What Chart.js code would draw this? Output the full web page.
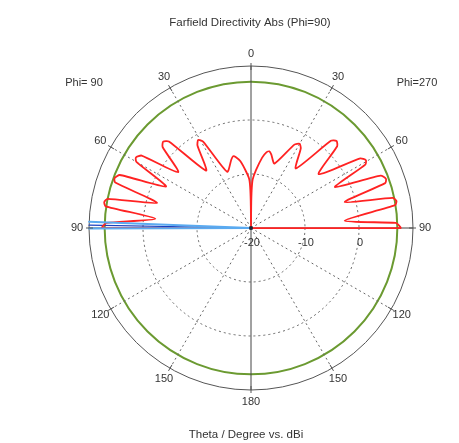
<!DOCTYPE html>
<html>
<head>
<meta charset="utf-8">
<script src="https://cdn.jsdelivr.net/npm/chart.js@4.4.1/dist/chart.umd.min.js"></script>
<style>
  html, body { margin: 0; padding: 0; background: #fff; }
  #wrap { width: 459px; height: 443px; position: relative; }
</style>
</head>
<body>
<div id="wrap"><canvas id="farfield"></canvas></div>
<script>
// angular resolution of the polar categories (degrees)
const STEP = 0.1;
const N = Math.round(360 / STEP);
const thetaCategories = Array.from({ length: N }, (_, i) => +(i * STEP).toFixed(1));

// Phi=270 half (drawn on the right, theta clockwise from top)
const thetaPhi270 = [0, 0.5, 1, 2, 5, 9, 11.5, 13.5, 15.5, 20, 27.5, 30, 32, 37, 42.5, 44.5, 46.5, 51.5,
  57.5, 59.5, 61, 64, 68, 70, 71.5, 74.5, 78, 79.5, 81, 85.5, 88, 89, 90, 90.5];
const dirPhi270 = [-20, -16, -13, -11, -9.2, -6.8, -5.7, -5.4, -5.9, -7.3, -2.6, -2, -2.6, -6.2, 1.9, 2.6, 2.0, -4,
  4.0, 4.7, 4.2, -2.7, 5.9, 6.6, 6.2, -2, 6.8, 7.4, 7.0, -2.6, 6.8, 7.4, 7.7, -20];

// Phi=90 half (drawn on the left, theta counter-clockwise from top)
const thetaPhi90 = [0, 0.5, 1, 2, 5, 9, 12, 14, 16, 23, 29, 31, 33, 38, 43.5, 45.5, 47.5, 52.5,
  56.5, 58.5, 60, 64, 68, 70, 71.5, 75, 78.5, 80, 81.5, 84.5, 88, 89, 90, 90.5];
const dirPhi90 = [-20, -16, -13, -11, -9.5, -7.5, -6.6, -6.3, -6.8, -8.7, -1.7, -1, -1.8, -6.5, 2.1, 2.8, 2.2, -3,
  4.3, 5.0, 4.5, -2.5, 6.2, 6.9, 6.5, -2, 7.1, 7.6, 7.2, -2.2, 6.8, 7.3, 7.6, -20];

// main lobe direction and 3 dB beam edges (Phi=90 side)
const mainLobeTheta = 89;
const beamEdgeTheta = [87.8, 90.2];

const radialTicks = [-20, -10, 0, 10];
const maxDirectivity = 7.1;
const angleTickAngles = [0, 30, 60, 90, 120, 150, 180, 210, 240, 270, 300, 330];
const angleTickLabels = ['0', '30', '60', '90', '120', '150', '180', '150', '120', '90', '60', '30'];

const idx = a => ((Math.round(a / STEP) % N) + N) % N;

function buildSeries() {
  const arr = new Array(N).fill(null);
  thetaPhi270.forEach((t, i) => { arr[idx(t)] = dirPhi270[i]; });
  thetaPhi90.forEach((t, i) => { arr[idx(360 - t)] = dirPhi90[i]; });
  return arr;
}

function rayTo(theta) {
  const arr = new Array(N).fill(null);
  arr[idx(180)] = -20;
  arr[idx(360 - theta)] = 10;
  return arr;
}

const FONT = '11px "Liberation Sans", Arial, sans-serif';

const overlay = {
  id: 'overlay',
  afterDraw(chart) {
    const r = chart.scales.r;
    const ctx = chart.ctx;
    ctx.save();
    ctx.strokeStyle = '#555';
    ctx.lineWidth = 1;
    ctx.fillStyle = '#333';
    ctx.font = FONT;
    ctx.textAlign = 'center';
    ctx.textBaseline = 'middle';

    angleTickAngles.forEach((a, i) => {
      const p1 = r.getPointPosition(idx(a), r.drawingArea - 4);
      const p2 = r.getPointPosition(idx(a), r.drawingArea + 3);
      ctx.beginPath();
      ctx.moveTo(p1.x, p1.y);
      ctx.lineTo(p2.x, p2.y);
      ctx.stroke();
      const pl = r.getPointPosition(idx(a), r.drawingArea + 12);
      ctx.fillText(angleTickLabels[i], pl.x, pl.y);
    });

    radialTicks.slice(0, 3).forEach(v => {
      const p = r.getPointPosition(idx(90), r.getDistanceFromCenterForValue(v));
      ctx.fillText(String(v), p.x + 1, p.y + 15);
    });

    // centre dot
    ctx.fillStyle = '#223';
    ctx.beginPath();
    ctx.arc(r.xCenter, r.yCenter, 2, 0, Math.PI * 2);
    ctx.fill();

    ctx.fillStyle = '#333';
    ctx.font = '11.5px "Liberation Sans", Arial, sans-serif';
    ctx.fillText('Farfield Directivity Abs (Phi=90)', 250, 23);
    ctx.fillText('Theta / Degree vs. dBi', 246, 435);
    ctx.font = FONT;
    ctx.fillText('Phi= 90', 84, 83);
    ctx.fillText('Phi=270', 417, 83);
    ctx.restore();
  }
};

new Chart(document.getElementById('farfield'), {
  type: 'radar',
  data: {
    labels: thetaCategories,
    datasets: [
      {
        data: rayTo(beamEdgeTheta[0]),
        borderColor: '#5aaaf0', borderWidth: 2, spanGaps: true, pointRadius: 0, fill: false, tension: 0
      },
      {
        data: rayTo(beamEdgeTheta[1]),
        borderColor: '#5aaaf0', borderWidth: 2, spanGaps: true, pointRadius: 0, fill: false, tension: 0
      },
      {
        data: buildSeries(),
        borderColor: '#ff2222', borderWidth: 1.8, spanGaps: true, pointRadius: 0, fill: false, tension: 0.2
      },
      {
        data: rayTo(mainLobeTheta),
        borderColor: '#1a3fc0', borderWidth: 1.2, spanGaps: true, pointRadius: 0, fill: false, tension: 0
      }
    ]
  },
  options: {
    responsive: true,
    maintainAspectRatio: false,
    animation: false,
    layout: { padding: { left: 89, top: 66, right: 46, bottom: 53 } },
    plugins: { legend: { display: false }, tooltip: { enabled: false } },
    elements: { line: { borderJoinStyle: 'round' } },
    scales: {
      r: {
        min: -20,
        max: 10,
        afterBuildTicks: s => { s.ticks = [-20, -10, 0, maxDirectivity, 10].map(v => ({ value: v })); },
        ticks: { display: false },
        pointLabels: { display: false },
        grid: {
          circular: true,
          color: c => c.tick.value === maxDirectivity ? '#6b9a31' : (c.tick.value === 10 ? '#555' : '#666'),
          lineWidth: c => c.tick.value === maxDirectivity ? 2 : 1
        },
        border: {
          dash: c => (c.tick && (c.tick.value === maxDirectivity || c.tick.value === 10)) ? [] : [2, 3]
        },
        angleLines: {
          color: c => (c.index % 900 === 0) ? '#444' : '#666',
          lineWidth: c => (c.index % 300 === 0) ? 1 : 0,
          borderDash: c => (c.index % 900 === 0) ? [] : [2, 3]
        }
      }
    }
  },
  plugins: [overlay]
});
</script>
</body>
</html>
